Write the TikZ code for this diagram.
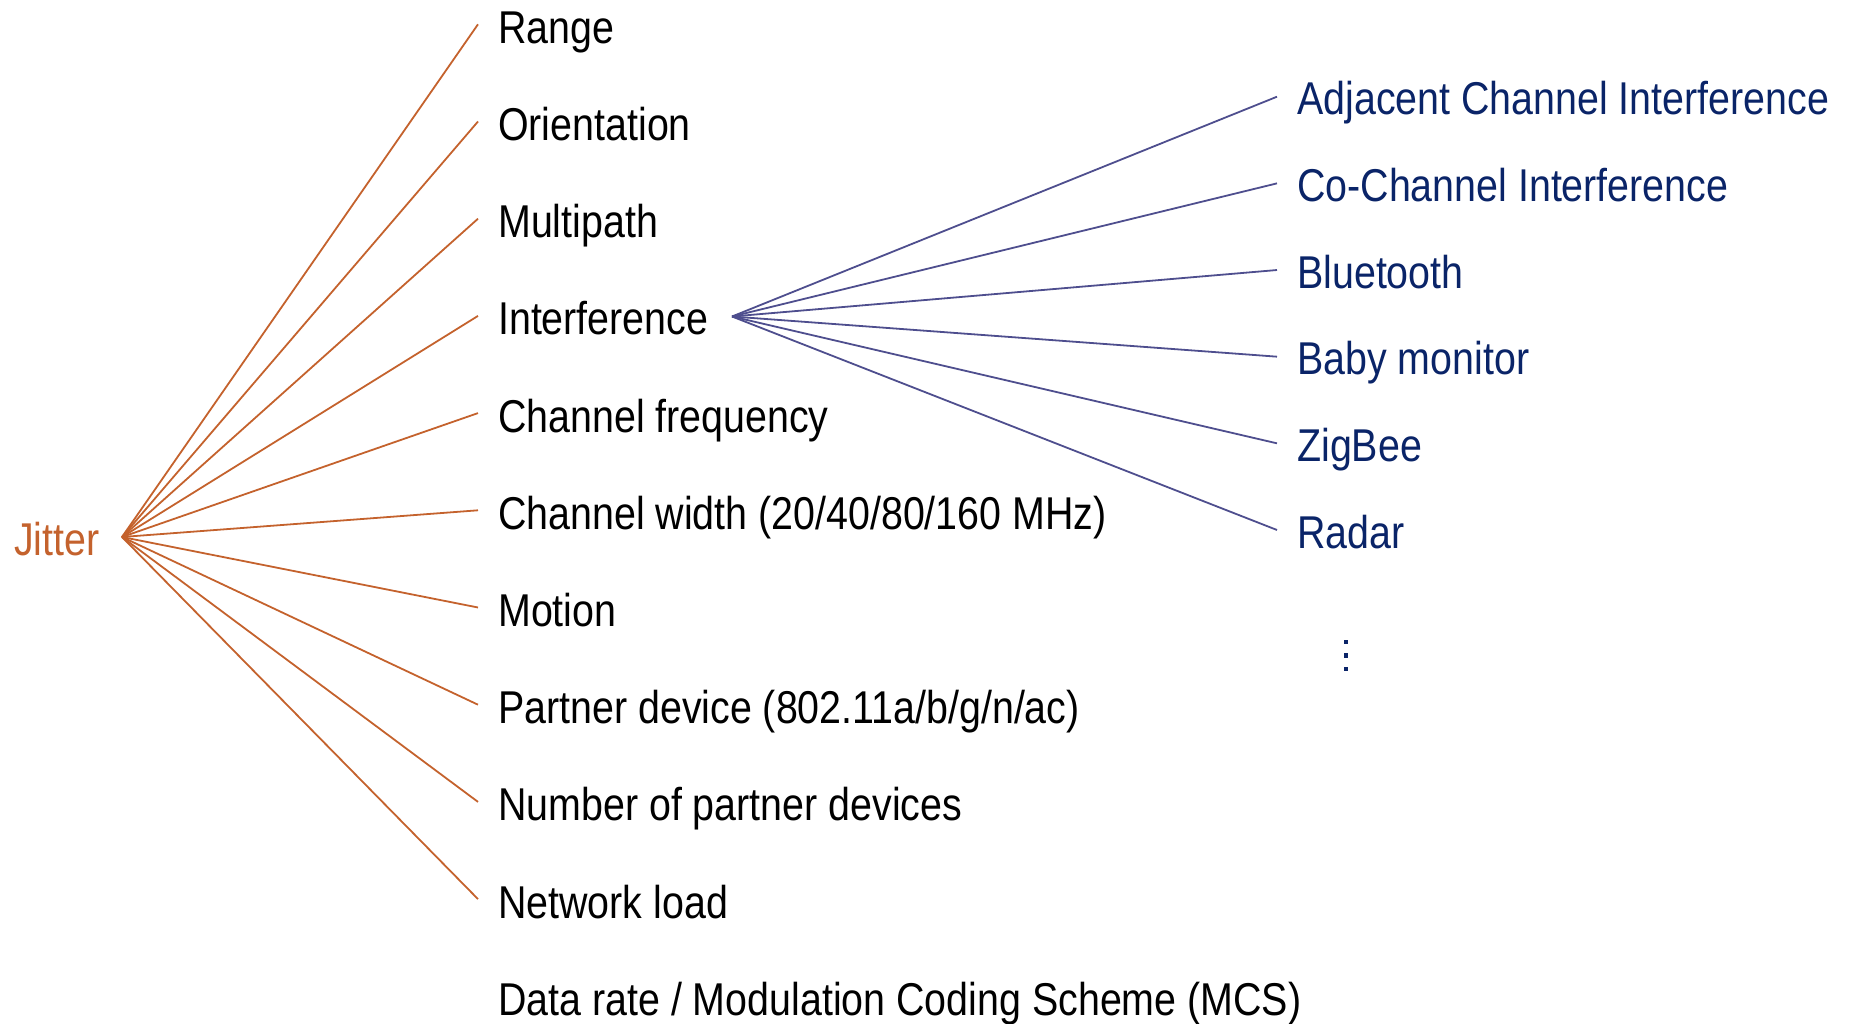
\documentclass[tikz,border=0pt]{standalone}
\usepackage{fontspec}
\setmainfont{Liberation Sans}[FakeStretch=0.856]
\definecolor{jitterorange}{RGB}{196,98,45}
\definecolor{navytext}{RGB}{10,36,104}
\definecolor{slateline}{RGB}{78,78,142}
\begin{document}
\begin{tikzpicture}[x=1pt,y=-1pt,
  factor/.style={anchor=base west,inner sep=0pt,font=\fontsize{46}{50}\selectfont,text=black},
  source/.style={anchor=base west,inner sep=0pt,font=\fontsize{46}{50}\selectfont,text=navytext},
  root/.style={anchor=base west,inner sep=0pt,font=\fontsize{46}{50}\selectfont,text=jitterorange},
  orangeedge/.style={draw=jitterorange,line width=1.8pt},
  blueedge/.style={draw=slateline,line width=1.8pt},
  dotmark/.style={fill=navytext,draw=none,minimum size=4.5pt,inner sep=0pt}]
\useasboundingbox (0,0) rectangle (1852,1024);

% root of the left fan
\node[root] (jitter) at (14,555) {Jitter};
\coordinate (hub) at (122,537);

% factors influencing jitter
\foreach \name/\txt [count=\i from 0] in {
  range/{Range},
  orient/{Orientation},
  multi/{Multipath},
  interf/{Interference},
  chfreq/{Channel frequency},
  chwidth/{Channel width (20/40/80/160 MHz)},
  motion/{Motion},
  partner/{Partner device (802.11a/b/g/n/ac)},
  npartner/{Number of partner devices},
  netload/{Network load}}{
  \coordinate (e-\name) at (478,24.3+97.2*\i);
  \node[factor] (\name) at (498,43.3+97.2*\i) {\txt};
  \draw[orangeedge] (hub) -- (e-\name);
}
\node[factor] (datarate) at (498,1015.3) {Data rate / Modulation Coding Scheme (MCS)};

% sources of interference
\coordinate (ihub) at (732,316.5);
\foreach \name/\txt [count=\i from 0] in {
  adj/{Adjacent Channel Interference},
  cochan/{Co-Channel Interference},
  bt/{Bluetooth},
  baby/{Baby monitor},
  zig/{ZigBee},
  radar/{Radar}}{
  \coordinate (b-\name) at (1277,96.7+86.66*\i);
  \node[source] (\name) at (1297,114.8+86.66*\i) {\txt};
  \draw[blueedge] (ihub) -- (b-\name);
}

% vertical ellipsis
\node[dotmark] (dot1) at (1346,642) {};
\node[dotmark] (dot2) at (1346,655.5) {};
\node[dotmark] (dot3) at (1346,669) {};
\end{tikzpicture}
\end{document}
